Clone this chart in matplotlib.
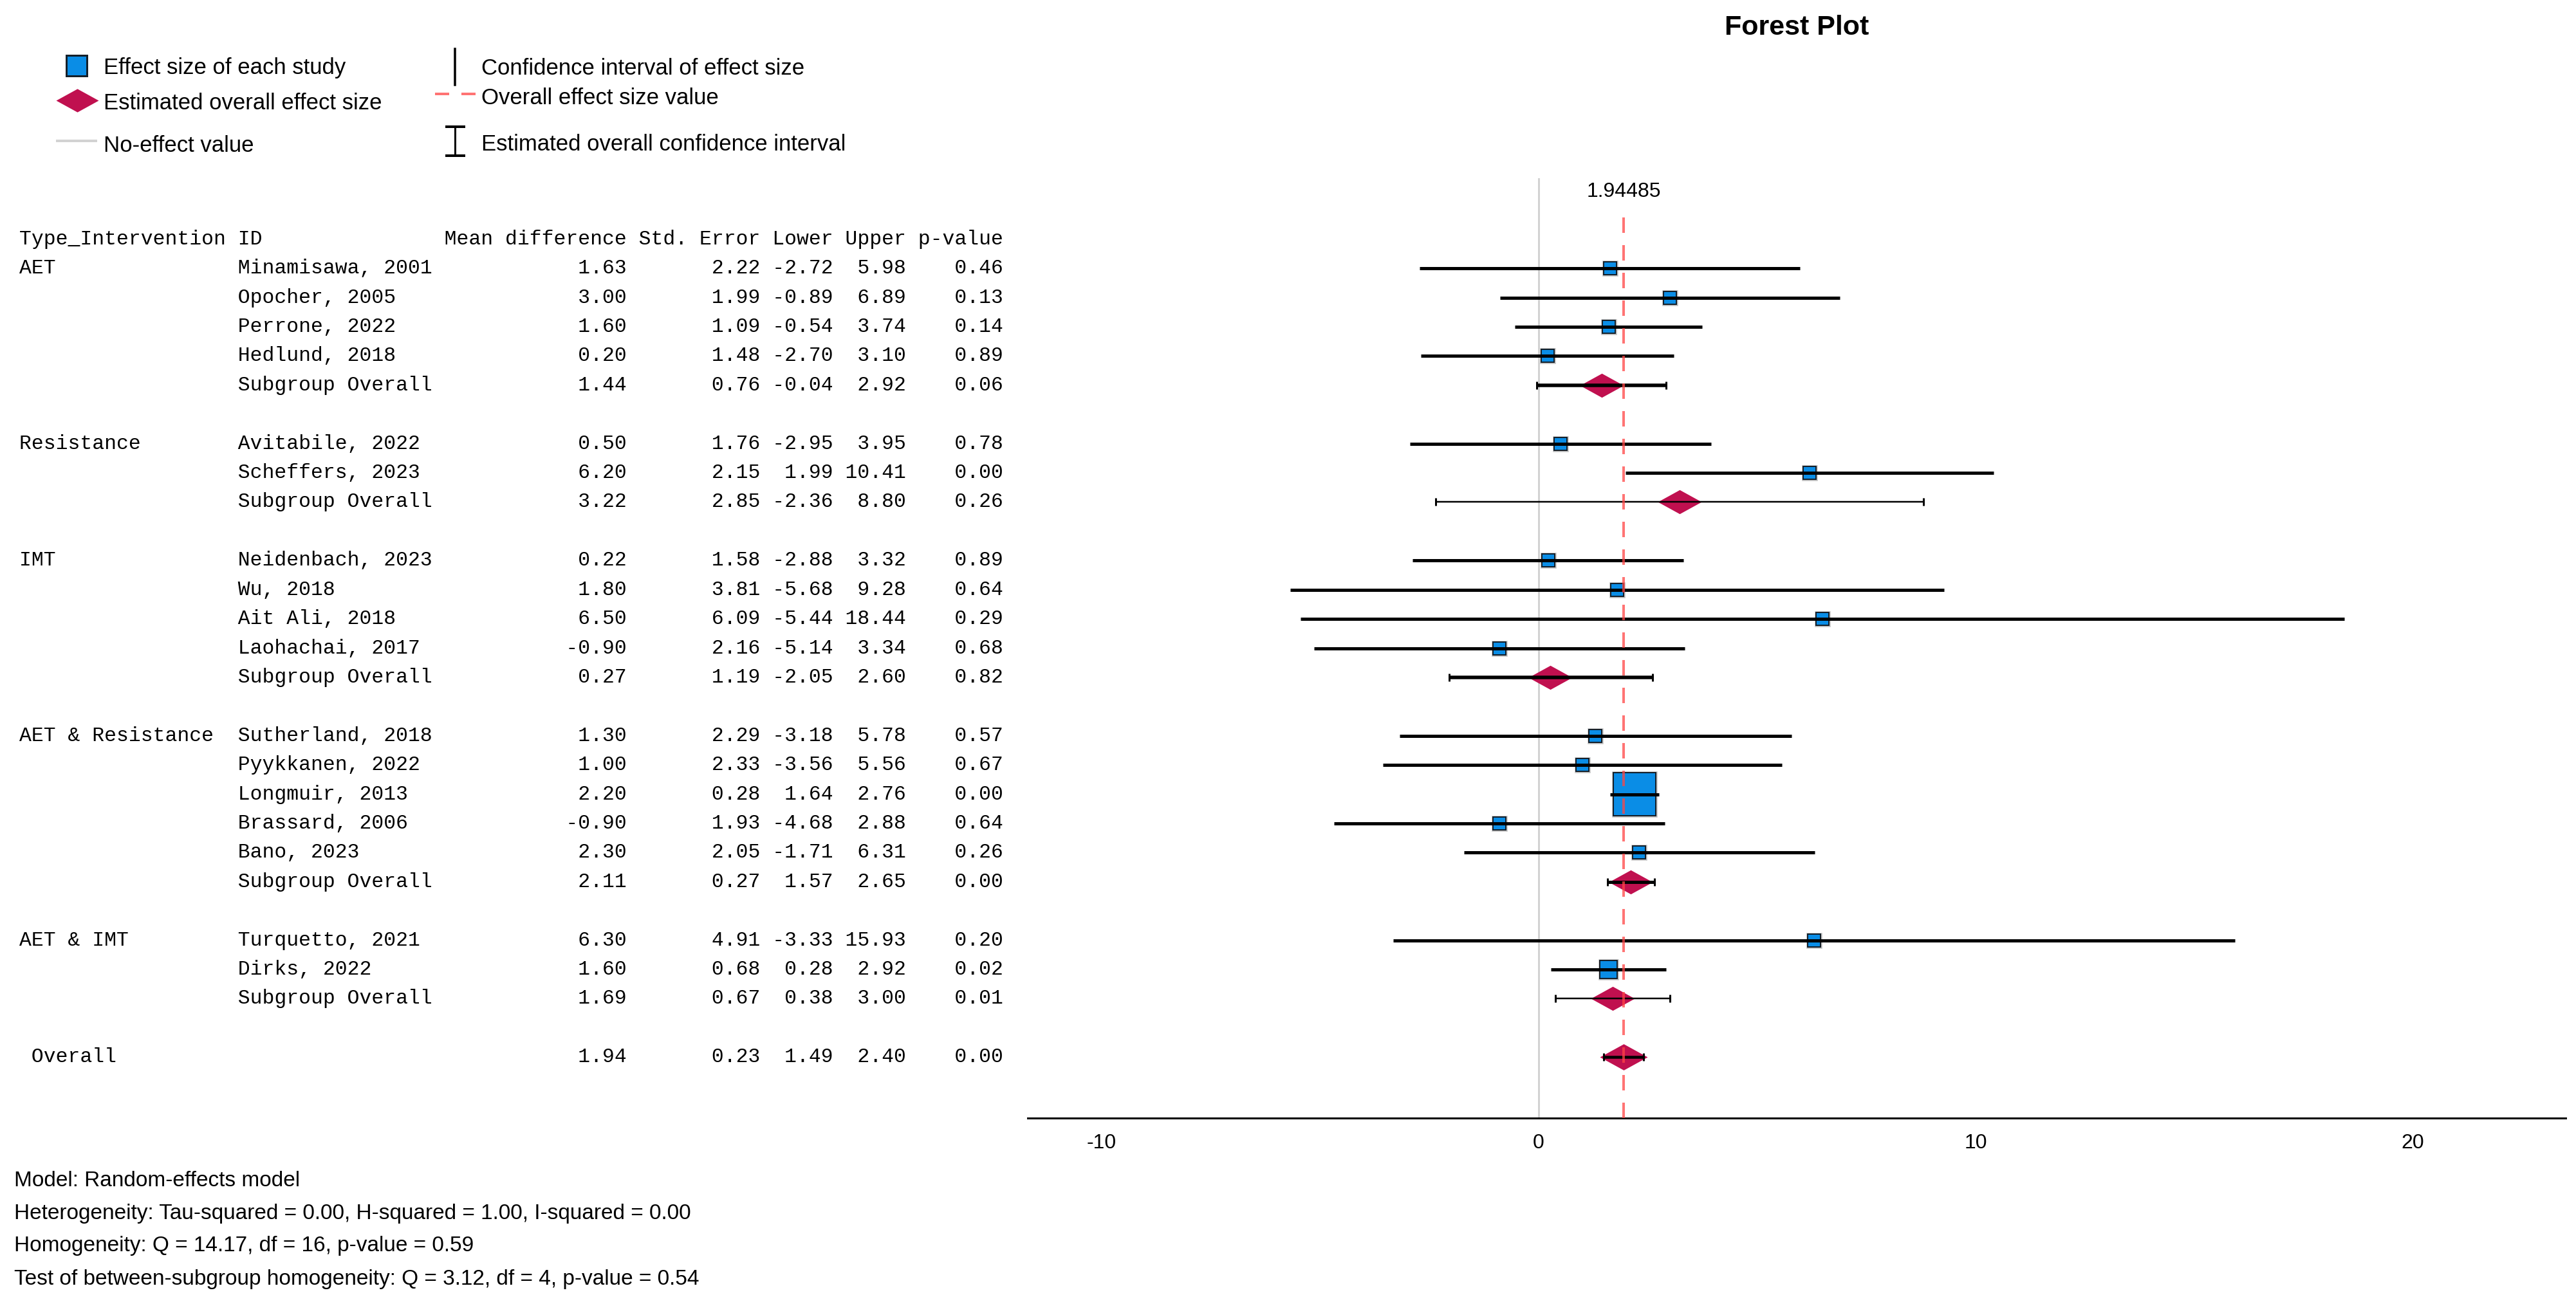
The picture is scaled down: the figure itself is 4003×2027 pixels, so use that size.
import matplotlib
matplotlib.use("Agg")
import matplotlib.pyplot as plt
import matplotlib.transforms as mtransforms
import matplotlib.patheffects as pe
from matplotlib.path import Path

plt.rcParams["axes.unicode_minus"] = False

# study level results
group_names = ["AET", "Resistance", "IMT", "AET & Resistance", "AET & IMT"]
study_group = (["AET"] * 4 + ["Resistance"] * 2 + ["IMT"] * 4
               + ["AET & Resistance"] * 5 + ["AET & IMT"] * 2)
study_id = ["Minamisawa, 2001", "Opocher, 2005", "Perrone, 2022", "Hedlund, 2018",
            "Avitabile, 2022", "Scheffers, 2023",
            "Neidenbach, 2023", "Wu, 2018", "Ait Ali, 2018", "Laohachai, 2017",
            "Sutherland, 2018", "Pyykkanen, 2022", "Longmuir, 2013", "Brassard, 2006", "Bano, 2023",
            "Turquetto, 2021", "Dirks, 2022"]
study_md = [1.63, 3.00, 1.60, 0.20, 0.50, 6.20, 0.22, 1.80, 6.50, -0.90,
            1.30, 1.00, 2.20, -0.90, 2.30, 6.30, 1.60]
study_se = [2.22, 1.99, 1.09, 1.48, 1.76, 2.15, 1.58, 3.81, 6.09, 2.16,
            2.29, 2.33, 0.28, 1.93, 2.05, 4.91, 0.68]
study_lo = [-2.72, -0.89, -0.54, -2.70, -2.95, 1.99, -2.88, -5.68, -5.44, -5.14,
            -3.18, -3.56, 1.64, -4.68, -1.71, -3.33, 0.28]
study_up = [5.98, 6.89, 3.74, 3.10, 3.95, 10.41, 3.32, 9.28, 18.44, 3.34,
            5.78, 5.56, 2.76, 2.88, 6.31, 15.93, 2.92]
study_p = [0.46, 0.13, 0.14, 0.89, 0.78, 0.00, 0.89, 0.64, 0.29, 0.68,
           0.57, 0.67, 0.00, 0.64, 0.26, 0.20, 0.02]

# subgroup results
sub_md = [1.44, 3.22, 0.27, 2.11, 1.69]
sub_se = [0.76, 2.85, 1.19, 0.27, 0.67]
sub_lo = [-0.04, -2.36, -2.05, 1.57, 0.38]
sub_up = [2.92, 8.80, 2.60, 2.65, 3.00]
sub_p = [0.06, 0.26, 0.82, 0.00, 0.01]

# overall result
overall_md, overall_se, overall_lo, overall_up, overall_p = 1.94, 0.23, 1.49, 2.40, 0.00
overall_es = 1.94485

footnotes = [
    "Model: Random-effects model",
    "Heterogeneity: Tau-squared = 0.00, H-squared = 1.00, I-squared = 0.00",
    "Homogeneity: Q = 14.17, df = 16, p-value = 0.59",
    "Test of between-subgroup homogeneity: Q = 3.12, df = 4, p-value = 0.54",
]

BLUE = "#0A8DE6"
CRIMSON = "#C0104F"
RED = "#FF4545"
GREY = "#D2D2D2"
SANS = "Liberation Sans"
MONO = "Liberation Mono"
PT = 0.72  # points per pixel at dpi 100
sub_lw_px = [5.5, 2.5, 5.5, 5, 2.5]  # line weights as rendered in the source

W, H = 4003, 2027
fig = plt.figure(figsize=(W / 100, H / 100), dpi=100)

# overlay in pixel units for legend and notes
lg = fig.add_axes([0, 0, 1, 1])
lg.set_xlim(0, W)
lg.set_ylim(H, 0)
lg.axis("off")

ax = fig.add_axes([1597 / W, 1 - 1738 / H, (3987 - 1597) / W, (1738 - 277) / H])
ax.set_xlim(-11.69, 23.5)
ax.set_ylim(30.09, -2.09)
ax.patch.set_alpha(0)

diamond = Path([(-1, 0), (0, 0.55), (1, 0), (0, -0.55), (-1, 0)],
               [Path.MOVETO, Path.LINETO, Path.LINETO, Path.LINETO, Path.CLOSEPOLY])
shadow = [pe.Stroke(linewidth=4.5 * PT, foreground="#8c8c8c", alpha=0.55), pe.Normal()]

# row layout: studies of a group, subgroup row, blank row, ..., overall
rows = []
k = 1
for gi, g in enumerate(group_names):
    members = [i for i, sg in enumerate(study_group) if sg == g]
    for j, i in enumerate(members):
        rows.append((k, "study", i, g if j == 0 else ""))
        k += 1
    rows.append((k, "sub", gi, ""))
    k += 2
overall_row = k

tx = mtransforms.blended_transform_factory(fig.transFigure, ax.transData)
col_x = 30 / W
tfont = dict(family=MONO, fontsize=22.6, va="center", ha="left", transform=tx, color="black")

header = (f"{'Type_Intervention':<18}{'ID':<17}{'Mean difference':>15} "
          f"{'Std. Error':>10} {'Lower':>5} {'Upper':>5} {'p-value':>7}")
ax.text(col_x, 0, header, **tfont)


def fmt(grp, name, md, se, lo, up, p):
    return f"{grp:<18}{name:<17}{md:>15.2f} {se:>10.2f} {lo:>5.2f} {up:>5.2f} {p:>7.2f}"


for r, kind, i, grp in rows:
    if kind == "study":
        ax.text(col_x, r, fmt(grp, study_id[i], study_md[i], study_se[i],
                              study_lo[i], study_up[i], study_p[i]), **tfont)
        ax.hlines(r, study_lo[i], study_up[i], color="black", lw=5 * PT, zorder=4)
        side = max(20, 18.5 / study_se[i])
        ax.plot(study_md[i], r, marker="s", ms=side * PT, mfc=BLUE, mec="#15202A",
                mew=2 * PT, zorder=3, path_effects=shadow)
    else:
        ax.text(col_x, r, fmt("", "Subgroup Overall", sub_md[i], sub_se[i],
                              sub_lo[i], sub_up[i], sub_p[i]), **tfont)
        ax.plot(sub_md[i], r, marker=diamond, ms=68 * PT, mfc=CRIMSON, mec="none", zorder=3)
        ax.errorbar(sub_md[i], r, xerr=[[sub_md[i] - sub_lo[i]], [sub_up[i] - sub_md[i]]],
                    fmt="none", ecolor="black", elinewidth=sub_lw_px[i] * PT, capsize=6 * PT,
                    capthick=3 * PT, zorder=4)

ax.text(col_x, overall_row,
        f" {'Overall':<34}{overall_md:>15.2f} {overall_se:>10.2f} {overall_lo:>5.2f} "
        f"{overall_up:>5.2f} {overall_p:>7.2f}", **tfont)
ax.plot(overall_md, overall_row, marker=diamond, ms=74 * PT, mfc=CRIMSON, mec="none", zorder=3)
ax.errorbar(overall_md, overall_row,
            xerr=[[overall_md - overall_lo], [overall_up - overall_md]],
            fmt="none", ecolor="black", elinewidth=4.5 * PT, capsize=6 * PT,
            capthick=3 * PT, zorder=4)

# reference lines
ax.axvline(0, color=GREY, lw=3 * PT, zorder=1)
red_lw = 4 * PT
ax.axvline(overall_es, ymin=0, ymax=(1738 - 331) / (1738 - 277), color=RED, alpha=0.75,
           lw=red_lw, dashes=(24 * PT / red_lw, 19 * PT / red_lw), zorder=5)
ax.text(overall_es, -1.63, f"{overall_es}", ha="center", va="center",
        family=SANS, fontsize=23)

for s in ["top", "left", "right"]:
    ax.spines[s].set_visible(False)
ax.spines["bottom"].set_linewidth(3 * PT)
ax.set_yticks([])
ax.set_xticks([-10, 0, 10, 20])
ax.tick_params(axis="x", length=0, pad=17, labelsize=23)
for lab in ax.get_xticklabels():
    lab.set_family(SANS)

fig.text(2792 / W, 1 - 43 / H, "Forest Plot", ha="center", va="center",
         family=SANS, fontsize=31, fontweight="bold")

# legend
lfont = dict(family=SANS, fontsize=25, va="center", ha="left")
lg.plot(119, 102, marker="s", ms=32 * PT, mfc=BLUE, mec="#15202A", mew=3 * PT)
lg.text(161, 106, "Effect size of each study", **lfont)
lg.plot(120, 156, marker=diamond, ms=66 * PT, mfc=CRIMSON, mec="none")
lg.text(161, 160, "Estimated overall effect size", **lfont)
lg.plot([89, 149], [219, 219], color=GREY, lw=4 * PT)
lg.text(161, 226, "No-effect value", **lfont)
lg.plot([707, 707], [76, 132], color="black", lw=3.5 * PT)
lg.text(748, 107, "Confidence interval of effect size", **lfont)
lg.plot([676, 739], [146, 146], color=RED, alpha=0.75, lw=red_lw,
        dashes=(22 * PT / red_lw, 19 * PT / red_lw))
lg.text(748, 152, "Overall effect size value", **lfont)
lg.plot([707, 707], [197, 242], color="black", lw=3 * PT)
lg.plot([694, 721], [197, 197], color="black", lw=4 * PT)
lg.plot([694, 721], [242, 242], color="black", lw=4 * PT)
lg.text(748, 225, "Estimated overall confidence interval", **lfont)

# notes under the table
for n, line in enumerate(footnotes):
    lg.text(22, 1835 + 51 * n, line, family=SANS, fontsize=24, va="center", ha="left")

fig.savefig("out.png", dpi=100)
